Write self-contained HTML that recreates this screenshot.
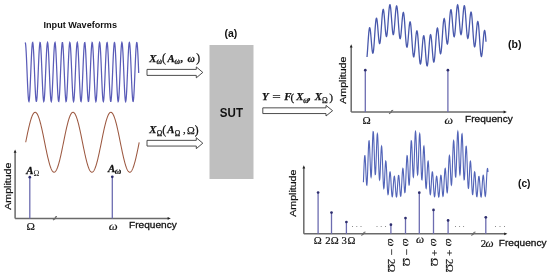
<!DOCTYPE html>
<html><head><meta charset="utf-8"><style>
html,body{margin:0;padding:0;background:#fff;}
body{width:550px;height:276px;overflow:hidden;font-family:"Liberation Sans",sans-serif;}
svg{display:block;will-change:transform;}
</style></head><body>
<svg width="550" height="276" viewBox="0 0 550 276">
<rect width="550" height="276" fill="#fff"/>
<text transform="translate(44.10,28.10)" x="-0.59" y="0" font-family="'Liberation Sans', sans-serif" font-weight="bold" font-style="normal" font-size="9.1" fill="#111">Input Waveforms</text>
<polyline points="25.20,42.50 25.45,43.16 25.70,45.10 25.95,48.25 26.20,52.45 26.45,57.53 26.70,63.25 26.95,69.36 27.20,75.59 27.45,81.66 27.71,87.30 27.96,92.25 28.21,96.31 28.46,99.28 28.71,101.03 28.96,101.48 29.21,100.63 29.46,98.49 29.71,95.18 29.96,90.83 30.21,85.64 30.46,79.84 30.71,73.69 30.96,67.47 31.21,61.45 31.46,55.90 31.71,51.06 31.96,47.17 32.22,44.38 32.47,42.82 32.72,42.56 32.97,43.62 33.22,45.94 33.47,49.43 33.72,53.92 33.97,59.22 34.22,65.09 34.47,71.26 34.72,77.47 34.97,83.44 35.22,88.89 35.47,93.60 35.72,97.34 35.97,99.94 36.22,101.31 36.47,101.36 36.73,100.11 36.98,97.60 37.23,93.95 37.48,89.32 37.73,83.92 37.98,77.98 38.23,71.78 38.48,65.59 38.73,59.69 38.98,54.33 39.23,49.76 39.48,46.19 39.73,43.76 39.98,42.60 40.23,42.75 40.48,44.20 40.73,46.89 40.98,50.70 41.24,55.46 41.49,60.96 41.74,66.95 41.99,73.17 42.24,79.33 42.49,85.17 42.74,90.42 42.99,94.85 43.24,98.26 43.49,100.50 43.74,101.46 43.99,101.12 44.24,99.47 44.49,96.60 44.74,92.63 44.99,87.74 45.24,82.15 45.49,76.10 45.75,69.88 46.00,63.75 46.25,57.98 46.50,52.84 46.75,48.56 47.00,45.32 47.25,43.27 47.50,42.50 47.75,43.05 48.00,44.89 48.25,47.94 48.50,52.06 48.75,57.08 49.00,62.75 49.25,68.84 49.50,75.07 49.75,81.17 50.00,86.85 50.26,91.87 50.51,96.01 50.76,99.07 51.01,100.93 51.26,101.50 51.51,100.75 51.76,98.72 52.01,95.49 52.26,91.22 52.51,86.09 52.76,80.34 53.01,74.21 53.26,67.98 53.51,61.93 53.76,56.33 54.01,51.43 54.26,47.45 54.51,44.56 54.77,42.90 55.02,42.53 55.27,43.48 55.52,45.70 55.77,49.10 56.02,53.51 56.27,58.75 56.52,64.58 56.77,70.74 57.02,76.96 57.27,82.96 57.52,88.47 57.77,93.24 58.02,97.07 58.27,99.77 58.52,101.24 58.77,101.41 59.02,100.26 59.28,97.85 59.53,94.29 59.78,89.74 60.03,84.39 60.28,78.49 60.53,72.30 60.78,66.10 61.03,60.16 61.28,54.75 61.53,50.11 61.78,46.45 62.03,43.92 62.28,42.65 62.53,42.68 62.78,44.03 63.03,46.62 63.28,50.34 63.53,55.03 63.78,60.48 64.04,66.44 64.29,72.65 64.54,78.83 64.79,84.70 65.04,90.01 65.29,94.52 65.54,98.02 65.79,100.36 66.04,101.43 66.29,101.19 66.54,99.65 66.79,96.88 67.04,93.00 67.29,88.18 67.54,82.64 67.79,76.62 68.04,70.40 68.29,64.25 68.55,58.44 68.80,53.24 69.05,48.88 69.30,45.55 69.55,43.39 69.80,42.52 70.05,42.96 70.30,44.69 70.55,47.64 70.80,51.68 71.05,56.63 71.30,62.26 71.55,68.32 71.80,74.55 72.05,80.67 72.30,86.40 72.55,91.48 72.80,95.70 73.06,98.86 73.31,100.82 73.56,101.50 73.81,100.86 74.06,98.93 74.31,95.80 74.56,91.61 74.81,86.55 75.06,80.84 75.31,74.73 75.56,68.50 75.81,62.42 76.06,56.78 76.31,51.81 76.56,47.74 76.81,44.76 77.06,42.99 77.31,42.51 77.57,43.35 77.82,45.47 78.07,48.77 78.32,53.11 78.57,58.29 78.82,64.08 79.07,70.22 79.32,76.45 79.57,82.47 79.82,88.03 80.07,92.87 80.32,96.79 80.57,99.59 80.82,101.17 81.07,101.44 81.32,100.41 81.57,98.10 81.82,94.63 82.08,90.15 82.33,84.86 82.58,79.00 82.83,72.82 83.08,66.61 83.33,60.64 83.58,55.18 83.83,50.46 84.08,46.71 84.33,44.08 84.58,42.70 84.83,42.63 85.08,43.87 85.33,46.36 85.58,49.99 85.83,54.61 86.08,60.00 86.33,65.93 86.59,72.13 86.84,78.32 87.09,84.23 87.34,89.60 87.59,94.18 87.84,97.77 88.09,100.21 88.34,101.39 88.59,101.26 88.84,99.83 89.09,97.16 89.34,93.36 89.59,88.61 89.84,83.12 90.09,77.13 90.34,70.92 90.59,64.75 90.84,58.91 91.10,53.65 91.35,49.20 91.60,45.78 91.85,43.53 92.10,42.54 92.35,42.87 92.60,44.50 92.85,47.35 93.10,51.31 93.35,56.19 93.60,61.77 93.85,67.81 94.10,74.04 94.35,80.17 94.60,85.94 94.85,91.09 95.10,95.39 95.35,98.64 95.61,100.71 95.86,101.49 96.11,100.96 96.36,99.14 96.61,96.11 96.86,92.00 97.11,87.00 97.36,81.33 97.61,75.24 97.86,69.01 98.11,62.92 98.36,57.23 98.61,52.19 98.86,48.04 99.11,44.96 99.36,43.09 99.61,42.50 99.86,43.23 100.12,45.25 100.37,48.45 100.62,52.71 100.87,57.83 101.12,63.58 101.37,69.70 101.62,75.93 101.87,81.99 102.12,87.59 102.37,92.50 102.62,96.50 102.87,99.41 103.12,101.09 103.37,101.47 103.62,100.54 103.87,98.34 104.12,94.96 104.37,90.56 104.62,85.33 104.88,79.50 105.13,73.34 105.38,67.12 105.63,61.12 105.88,55.61 106.13,50.82 106.38,46.98 106.63,44.26 106.88,42.77 107.13,42.59 107.38,43.71 107.63,46.11 107.88,49.65 108.13,54.19 108.38,59.53 108.63,65.42 108.88,71.61 109.13,77.81 109.39,83.76 109.64,89.18 109.89,93.83 110.14,97.51 110.39,100.05 110.64,101.34 110.89,101.33 111.14,100.00 111.39,97.42 111.64,93.71 111.89,89.04 112.14,83.60 112.39,77.64 112.64,71.44 112.89,65.25 113.14,59.37 113.39,54.06 113.64,49.54 113.90,46.02 114.15,43.67 114.40,42.57 114.65,42.79 114.90,44.32 115.15,47.07 115.40,50.94 115.65,55.75 115.90,61.28 116.15,67.29 116.40,73.52 116.65,79.67 116.90,85.48 117.15,90.69 117.40,95.07 117.65,98.42 117.90,100.58 118.15,101.48 118.41,101.06 118.66,99.34 118.91,96.40 119.16,92.38 119.41,87.45 119.66,81.82 119.91,75.76 120.16,69.53 120.41,63.41 120.66,57.68 120.91,52.58 121.16,48.35 121.41,45.17 121.66,43.19 121.91,42.50 122.16,43.12 122.41,45.03 122.66,48.14 122.92,52.32 123.17,57.37 123.42,63.08 123.67,69.19 123.92,75.42 124.17,81.49 124.42,87.15 124.67,92.13 124.92,96.21 125.17,99.21 125.42,101.00 125.67,101.49 125.92,100.67 126.17,98.57 126.42,95.28 126.67,90.96 126.92,85.79 127.17,80.00 127.43,73.86 127.68,67.64 127.93,61.61 128.18,56.04 128.43,51.19 128.68,47.26 128.93,44.44 129.18,42.84 129.43,42.55 129.68,43.57 129.93,45.86 130.18,49.31 130.43,53.78 130.68,59.06 130.93,64.92 131.18,71.09 131.43,77.30 131.68,83.28 131.94,88.75 132.19,93.48 132.44,97.25 132.69,99.89 132.94,101.29 133.19,101.38 133.44,100.16 133.69,97.68 133.94,94.06 134.19,89.46 134.44,84.08 134.69,78.15 134.94,71.96 135.19,65.76 135.44,59.85 135.69,54.47 135.94,49.88 136.19,46.27 136.45,43.82 136.70,42.61 136.95,42.72 137.20,44.14 137.45,46.80 137.70,50.58 137.95,55.32 138.20,60.80 138.45,66.78 138.70,73.00" fill="none" stroke="#5a5cb8" stroke-width="1.25"/>
<polyline points="25.70,142.25 25.95,141.00 26.20,139.76 26.45,138.52 26.70,137.29 26.95,136.06 27.20,134.85 27.45,133.65 27.70,132.46 27.95,131.30 28.21,130.15 28.46,129.02 28.71,127.91 28.96,126.83 29.21,125.78 29.46,124.75 29.71,123.75 29.96,122.79 30.21,121.86 30.46,120.97 30.71,120.11 30.96,119.29 31.21,118.51 31.46,117.77 31.71,117.07 31.96,116.42 32.21,115.81 32.46,115.25 32.72,114.73 32.97,114.27 33.22,113.85 33.47,113.48 33.72,113.15 33.97,112.88 34.22,112.67 34.47,112.50 34.72,112.38 34.97,112.31 35.22,112.30 35.47,112.34 35.72,112.43 35.97,112.57 36.22,112.77 36.47,113.01 36.72,113.30 36.97,113.65 37.23,114.04 37.48,114.49 37.73,114.98 37.98,115.52 38.23,116.10 38.48,116.73 38.73,117.41 38.98,118.12 39.23,118.88 39.48,119.68 39.73,120.52 39.98,121.40 40.23,122.31 40.48,123.25 40.73,124.23 40.98,125.25 41.23,126.29 41.48,127.35 41.74,128.45 41.99,129.56 42.24,130.70 42.49,131.86 42.74,133.04 42.99,134.23 43.24,135.44 43.49,136.66 43.74,137.89 43.99,139.12 44.24,140.37 44.49,141.61 44.74,142.86 44.99,144.10 45.24,145.34 45.49,146.58 45.74,147.81 45.99,149.03 46.25,150.23 46.50,151.43 46.75,152.61 47.00,153.77 47.25,154.91 47.50,156.02 47.75,157.12 48.00,158.19 48.25,159.23 48.50,160.24 48.75,161.22 49.00,162.17 49.25,163.08 49.50,163.96 49.75,164.80 50.00,165.60 50.25,166.36 50.50,167.08 50.76,167.75 51.01,168.38 51.26,168.97 51.51,169.51 51.76,170.00 52.01,170.44 52.26,170.84 52.51,171.19 52.76,171.48 53.01,171.73 53.26,171.92 53.51,172.07 53.76,172.16 54.01,172.20 54.26,172.19 54.51,172.12 54.76,172.01 55.01,171.84 55.27,171.62 55.52,171.35 55.77,171.03 56.02,170.66 56.27,170.25 56.52,169.78 56.77,169.27 57.02,168.70 57.27,168.10 57.52,167.45 57.77,166.75 58.02,166.01 58.27,165.23 58.52,164.42 58.77,163.56 59.02,162.66 59.27,161.74 59.52,160.77 59.78,159.78 60.03,158.75 60.28,157.70 60.53,156.62 60.78,155.51 61.03,154.38 61.28,153.23 61.53,152.07 61.78,150.88 62.03,149.68 62.28,148.47 62.53,147.24 62.78,146.01 63.03,144.77 63.28,143.53 63.53,142.28 63.78,141.04 64.03,139.79 64.28,138.55 64.54,137.32 64.79,136.10 65.04,134.88 65.29,133.68 65.54,132.50 65.79,131.33 66.04,130.18 66.29,129.05 66.54,127.94 66.79,126.86 67.04,125.80 67.29,124.78 67.54,123.78 67.79,122.82 68.04,121.88 68.29,120.99 68.54,120.13 68.79,119.31 69.05,118.53 69.30,117.79 69.55,117.09 69.80,116.44 70.05,115.83 70.30,115.26 70.55,114.75 70.80,114.28 71.05,113.86 71.30,113.48 71.55,113.16 71.80,112.89 72.05,112.67 72.30,112.50 72.55,112.38 72.80,112.32 73.05,112.30 73.30,112.34 73.56,112.43 73.81,112.57 74.06,112.76 74.31,113.00 74.56,113.30 74.81,113.64 75.06,114.03 75.31,114.47 75.56,114.96 75.81,115.50 76.06,116.09 76.31,116.71 76.56,117.39 76.81,118.10 77.06,118.86 77.31,119.66 77.56,120.50 77.81,121.37 78.07,122.28 78.32,123.23 78.57,124.21 78.82,125.22 79.07,126.26 79.32,127.32 79.57,128.42 79.82,129.53 80.07,130.67 80.32,131.83 80.57,133.01 80.82,134.20 81.07,135.41 81.32,136.63 81.57,137.86 81.82,139.09 82.07,140.33 82.32,141.58 82.58,142.82 82.83,144.07 83.08,145.31 83.33,146.55 83.58,147.78 83.83,148.99 84.08,150.20 84.33,151.40 84.58,152.58 84.83,153.74 85.08,154.88 85.33,155.99 85.58,157.09 85.83,158.16 86.08,159.20 86.33,160.21 86.58,161.19 86.83,162.14 87.09,163.06 87.34,163.93 87.59,164.77 87.84,165.58 88.09,166.34 88.34,167.06 88.59,167.73 88.84,168.37 89.09,168.95 89.34,169.49 89.59,169.99 89.84,170.43 90.09,170.83 90.34,171.18 90.59,171.48 90.84,171.72 91.09,171.92 91.34,172.06 91.60,172.16 91.85,172.20 92.10,172.19 92.35,172.12 92.60,172.01 92.85,171.85 93.10,171.63 93.35,171.36 93.60,171.04 93.85,170.68 94.10,170.26 94.35,169.79 94.60,169.28 94.85,168.72 95.10,168.11 95.35,167.46 95.60,166.77 95.85,166.03 96.11,165.25 96.36,164.44 96.61,163.58 96.86,162.69 97.11,161.76 97.36,160.80 97.61,159.80 97.86,158.78 98.11,157.73 98.36,156.65 98.61,155.54 98.86,154.41 99.11,153.27 99.36,152.10 99.61,150.91 99.86,149.71 100.11,148.50 100.36,147.28 100.62,146.04 100.87,144.81 101.12,143.56 101.37,142.32 101.62,141.07 101.87,139.83 102.12,138.59 102.37,137.35 102.62,136.13 102.87,134.92 103.12,133.71 103.37,132.53 103.62,131.36 103.87,130.21 104.12,129.08 104.37,127.97 104.62,126.89 104.87,125.83 105.12,124.80 105.38,123.81 105.63,122.84 105.88,121.91 106.13,121.01 106.38,120.15 106.63,119.33 106.88,118.55 107.13,117.81 107.38,117.11 107.63,116.45 107.88,115.84 108.13,115.28 108.38,114.76 108.63,114.29 108.88,113.87 109.13,113.49 109.38,113.17 109.63,112.90 109.89,112.68 110.14,112.50 110.39,112.38 110.64,112.32 110.89,112.30 111.14,112.34 111.39,112.42 111.64,112.56 111.89,112.75 112.14,113.00 112.39,113.29 112.64,113.63 112.89,114.02 113.14,114.46 113.39,114.95 113.64,115.49 113.89,116.07 114.14,116.70 114.40,117.37 114.65,118.08 114.90,118.84 115.15,119.64 115.40,120.47 115.65,121.35 115.90,122.26 116.15,123.20 116.40,124.18 116.65,125.19 116.90,126.23 117.15,127.30 117.40,128.39 117.65,129.50 117.90,130.64 118.15,131.80 118.40,132.98 118.65,134.17 118.91,135.38 119.16,136.59 119.41,137.82 119.66,139.06 119.91,140.30 120.16,141.54 120.41,142.79 120.66,144.04 120.91,145.28 121.16,146.51 121.41,147.74 121.66,148.96 121.91,150.17 122.16,151.37 122.41,152.54 122.66,153.70 122.91,154.85 123.16,155.97 123.42,157.06 123.67,158.13 123.92,159.17 124.17,160.19 124.42,161.17 124.67,162.12 124.92,163.03 125.17,163.91 125.42,164.75 125.67,165.56 125.92,166.32 126.17,167.04 126.42,167.72 126.67,168.35 126.92,168.94 127.17,169.48 127.42,169.98 127.67,170.42 127.93,170.82 128.18,171.17 128.43,171.47 128.68,171.72 128.93,171.91 129.18,172.06 129.43,172.15 129.68,172.20 129.93,172.19 130.18,172.13 130.43,172.01 130.68,171.85 130.93,171.63 131.18,171.37 131.43,171.05 131.68,170.69 131.93,170.27 132.18,169.81 132.44,169.29 132.69,168.73 132.94,168.13 133.19,167.48 133.44,166.79 133.69,166.05 133.94,165.28 134.19,164.46 134.44,163.60 134.69,162.71 134.94,161.79 135.19,160.82 135.44,159.83 135.69,158.81 135.94,157.76 136.19,156.68 136.44,155.57 136.69,154.44 136.95,153.30 137.20,152.13 137.45,150.94 137.70,149.75 137.95,148.53 138.20,147.31 138.45,146.08 138.70,144.84 138.95,143.60 139.20,142.35" fill="none" stroke="#9c5840" stroke-width="1.05"/>
<line x1="15.1" y1="218.4" x2="168.8" y2="218.4" stroke="#6a6a6a" stroke-width="1.5"/><path d="M170.8,218.4 L167.60000000000002,217.0 L167.60000000000002,219.8 Z" fill="#222"/><line x1="15.1" y1="218.4" x2="15.1" y2="151.6" stroke="#6a6a6a" stroke-width="1.5"/><path d="M15.1,149.6 L13.7,152.79999999999998 L16.5,152.79999999999998 Z" fill="#222"/>
<path d="M53,220.20000000000002 C54,218.9 55,219.4 55,218.4 S56,216.6 57,216.6" fill="none" stroke="#666" stroke-width="1.1"/>
<line x1="29.8" y1="177.2" x2="29.8" y2="218.4" stroke="#6c6cb0" stroke-width="1.3"/><circle cx="29.8" cy="177.2" r="1.35" fill="#2e2e6e"/>
<line x1="112.3" y1="176.8" x2="112.3" y2="218.4" stroke="#6c6cb0" stroke-width="1.3"/><circle cx="112.3" cy="176.8" r="1.35" fill="#2e2e6e"/>
<text transform="translate(29.30,173.60)" x="-3.09" y="0" font-family="'Liberation Serif', serif" font-weight="bold" font-style="italic" font-size="10.8" fill="#111" stroke="#111" stroke-width="0.3">A</text>
<text transform="translate(36.35,175.60)" x="-2.91" y="0" font-family="'Liberation Serif', serif" font-weight="normal" font-style="normal" font-size="7.8" fill="#111">Ω</text>
<text transform="translate(111.10,171.80)" x="-3.09" y="0" font-family="'Liberation Serif', serif" font-weight="bold" font-style="italic" font-size="10.8" fill="#111" stroke="#111" stroke-width="0.3">A</text>
<text transform="translate(118.00,174.00) scale(1.2,1)" x="-2.64" y="0" font-family="'Liberation Serif', serif" font-weight="bold" font-style="italic" font-size="7.5" fill="#111" stroke="#111" stroke-width="0.2">ω</text>
<text transform="translate(30.65,230.20)" x="-4.21" y="0" font-family="'Liberation Serif', serif" font-weight="normal" font-style="normal" font-size="11.3" fill="#111" stroke="#111" stroke-width="0.2">Ω</text>
<text transform="translate(113.10,229.90) scale(1.2,1)" x="-3.65" y="0" font-family="'Liberation Serif', serif" font-weight="normal" font-style="italic" font-size="10.5" fill="#111" stroke="#111" stroke-width="0.2">ω</text>
<text transform="translate(129.90,227.90) scale(1.0,0.93)" x="-0.81" y="0" font-family="'Liberation Sans', sans-serif" font-weight="normal" font-style="normal" font-size="10.1" fill="#111" stroke="#111" stroke-width="0.3">Frequency</text>
<text transform="translate(10.77,209.70) rotate(-90) scale(1,0.85)" x="-0.05" y="0" font-family="'Liberation Sans', sans-serif" font-weight="normal" font-style="normal" font-size="10.6" fill="#111" stroke="#111" stroke-width="0.25">Amplitude</text>
<path d="M147,69.4 L196.3,69.4 L196.3,66.95 L202.8,72.4 L196.3,77.85000000000001 L196.3,75.4 L147,75.4 Z" fill="#fff" stroke="#3a3a3a" stroke-width="0.9"/>
<path d="M147,140.35 L196.3,140.35 L196.3,137.75 L202.8,143.2 L196.3,148.64999999999998 L196.3,146.04999999999998 L147,146.04999999999998 Z" fill="#fff" stroke="#3a3a3a" stroke-width="0.9"/>
<path d="M262.8,107.85000000000001 L326,107.85000000000001 L326,105.4 L332.6,110.7 L326,116.0 L326,113.55 L262.8,113.55 Z" fill="#fff" stroke="#3a3a3a" stroke-width="0.9"/>
<text transform="translate(152.85,61.70)" x="-3.58" y="0" font-family="'Liberation Serif', serif" font-weight="bold" font-style="italic" font-size="10.8" fill="#111" stroke="#111" stroke-width="0.25">X</text>
<text transform="translate(159.10,63.70)" x="-2.68" y="0" font-family="'Liberation Serif', serif" font-weight="bold" font-style="italic" font-size="7.6" fill="#111" stroke="#111" stroke-width="0.25">ω</text>
<text transform="translate(164.00,62.00)" x="-2.00" y="0" font-family="'Liberation Serif', serif" font-weight="normal" font-style="normal" font-size="11.6" fill="#111" stroke="#111" stroke-width="0.25">(</text>
<text transform="translate(170.50,61.70)" x="-3.09" y="0" font-family="'Liberation Serif', serif" font-weight="bold" font-style="italic" font-size="10.8" fill="#111" stroke="#111" stroke-width="0.25">A</text>
<text transform="translate(177.25,63.70)" x="-2.68" y="0" font-family="'Liberation Serif', serif" font-weight="bold" font-style="italic" font-size="7.6" fill="#111" stroke="#111" stroke-width="0.25">ω</text>
<text transform="translate(181.60,61.70)" x="-0.78" y="0" font-family="'Liberation Serif', serif" font-weight="bold" font-style="italic" font-size="10.8" fill="#111" stroke="#111" stroke-width="0.25">,</text>
<text transform="translate(191.10,61.70)" x="-3.60" y="0" font-family="'Liberation Serif', serif" font-weight="bold" font-style="italic" font-size="10.2" fill="#111" stroke="#111" stroke-width="0.25">ω</text>
<text transform="translate(198.00,62.00)" x="-1.87" y="0" font-family="'Liberation Serif', serif" font-weight="normal" font-style="normal" font-size="11.6" fill="#111" stroke="#111" stroke-width="0.25">)</text>
<text transform="translate(152.85,133.30)" x="-3.58" y="0" font-family="'Liberation Serif', serif" font-weight="bold" font-style="italic" font-size="10.8" fill="#111" stroke="#111" stroke-width="0.25">X</text>
<text transform="translate(159.45,135.60)" x="-2.76" y="0" font-family="'Liberation Serif', serif" font-weight="normal" font-style="normal" font-size="7.4" fill="#111" stroke="#111" stroke-width="0.25">Ω</text>
<text transform="translate(164.20,133.60)" x="-2.00" y="0" font-family="'Liberation Serif', serif" font-weight="normal" font-style="normal" font-size="11.6" fill="#111" stroke="#111" stroke-width="0.25">(</text>
<text transform="translate(170.25,133.30)" x="-3.09" y="0" font-family="'Liberation Serif', serif" font-weight="bold" font-style="italic" font-size="10.8" fill="#111" stroke="#111" stroke-width="0.25">A</text>
<text transform="translate(177.55,135.60)" x="-2.76" y="0" font-family="'Liberation Serif', serif" font-weight="normal" font-style="normal" font-size="7.4" fill="#111" stroke="#111" stroke-width="0.25">Ω</text>
<text transform="translate(184.20,133.30)" x="-1.22" y="0" font-family="'Liberation Serif', serif" font-weight="normal" font-style="normal" font-size="10.8" fill="#111" stroke="#111" stroke-width="0.25">,</text>
<text transform="translate(190.90,133.60)" x="-3.87" y="0" font-family="'Liberation Serif', serif" font-weight="normal" font-style="normal" font-size="10.4" fill="#111" stroke="#111" stroke-width="0.25">Ω</text>
<text transform="translate(196.50,133.60)" x="-1.87" y="0" font-family="'Liberation Serif', serif" font-weight="normal" font-style="normal" font-size="11.6" fill="#111" stroke="#111" stroke-width="0.25">)</text>
<text transform="translate(265.95,100.20)" x="-4.00" y="0" font-family="'Liberation Serif', serif" font-weight="bold" font-style="italic" font-size="10.8" fill="#111" stroke="#111" stroke-width="0.25">Y</text>
<text transform="translate(276.55,100.20) scale(1.4,1)" x="-3.05" y="0" font-family="'Liberation Serif', serif" font-weight="bold" font-style="normal" font-size="10.8" fill="#111" stroke="#111" stroke-width="0.2">=</text>
<text transform="translate(287.85,100.20)" x="-3.51" y="0" font-family="'Liberation Serif', serif" font-weight="bold" font-style="italic" font-size="10.8" fill="#111" stroke="#111" stroke-width="0.25">F</text>
<text transform="translate(292.45,101.00)" x="-1.95" y="0" font-family="'Liberation Serif', serif" font-weight="normal" font-style="normal" font-size="11.3" fill="#111" stroke="#111" stroke-width="0.25">(</text>
<text transform="translate(299.80,100.20)" x="-3.58" y="0" font-family="'Liberation Serif', serif" font-weight="bold" font-style="italic" font-size="10.8" fill="#111" stroke="#111" stroke-width="0.25">X</text>
<text transform="translate(305.75,102.70)" x="-2.61" y="0" font-family="'Liberation Serif', serif" font-weight="bold" font-style="italic" font-size="7.4" fill="#111" stroke="#111" stroke-width="0.25">ω</text>
<text transform="translate(309.00,100.20)" x="-0.78" y="0" font-family="'Liberation Serif', serif" font-weight="bold" font-style="italic" font-size="10.8" fill="#111" stroke="#111" stroke-width="0.25">,</text>
<text transform="translate(318.40,100.20)" x="-3.58" y="0" font-family="'Liberation Serif', serif" font-weight="bold" font-style="italic" font-size="10.8" fill="#111" stroke="#111" stroke-width="0.25">X</text>
<text transform="translate(324.75,102.80)" x="-2.83" y="0" font-family="'Liberation Serif', serif" font-weight="normal" font-style="normal" font-size="7.6" fill="#111" stroke="#111" stroke-width="0.25">Ω</text>
<text transform="translate(331.15,101.00)" x="-1.82" y="0" font-family="'Liberation Serif', serif" font-weight="normal" font-style="normal" font-size="11.3" fill="#111" stroke="#111" stroke-width="0.25">)</text>
<rect x="209.5" y="45" width="44" height="134" fill="#bfbfbf"/>
<text transform="translate(220.20,117.30) scale(0.854,1.0)" x="-0.40" y="0" font-family="'Liberation Sans', sans-serif" font-weight="bold" font-style="normal" font-size="13.5" fill="#111">SUT</text>
<text transform="translate(225.00,36.60)" x="-0.53" y="0" font-family="'Liberation Sans', sans-serif" font-weight="bold" font-style="normal" font-size="10.5" fill="#111">(a)</text>
<polyline points="367.00,56.96 367.20,54.69 367.40,52.11 367.60,49.29 367.80,46.33 368.00,43.32 368.20,40.35 368.40,37.53 368.60,34.93 368.80,32.64 369.00,30.73 369.20,29.26 369.40,28.27 369.60,27.79 369.80,27.81 370.00,28.34 370.20,29.35 370.40,30.79 370.60,32.60 370.80,34.72 371.00,37.05 371.20,39.52 371.40,42.03 371.60,44.47 371.80,46.77 372.00,48.83 372.20,50.56 372.40,51.91 372.60,52.81 372.80,53.23 373.00,53.14 373.20,52.53 373.40,51.42 373.60,49.83 373.80,47.81 374.00,45.41 374.20,42.72 374.40,39.81 374.60,36.77 374.80,33.70 375.00,30.69 375.20,27.84 375.40,25.24 375.60,22.96 375.80,21.07 376.00,19.63 376.20,18.67 376.40,18.23 376.60,18.30 376.80,18.88 377.00,19.93 377.20,21.40 377.40,23.25 377.60,25.39 377.80,27.74 378.00,30.21 378.20,32.71 378.40,35.14 378.60,37.41 378.80,39.42 379.00,41.12 379.20,42.41 379.40,43.26 379.60,43.62 379.80,43.47 380.00,42.81 380.20,41.65 380.40,40.03 380.60,37.98 380.80,35.57 381.00,32.88 381.20,29.99 381.40,26.99 381.60,23.98 381.80,21.04 382.00,18.28 382.20,15.78 382.40,13.61 382.60,11.85 382.80,10.55 383.00,9.75 383.20,9.46 383.40,9.68 383.60,10.42 383.80,11.62 384.00,13.24 384.20,15.22 384.40,17.49 384.60,19.96 384.80,22.55 385.00,25.14 385.20,27.66 385.40,30.00 385.60,32.08 385.80,33.83 386.00,35.18 386.20,36.07 386.40,36.48 386.60,36.37 386.80,35.76 387.00,34.66 387.20,33.09 387.40,31.12 387.60,28.80 387.80,26.21 388.00,23.43 388.20,20.57 388.40,17.70 388.60,14.93 388.80,12.34 389.00,10.04 389.20,8.08 389.40,6.54 389.60,5.46 389.80,4.89 390.00,4.83 390.20,5.30 390.40,6.26 390.60,7.69 390.80,9.53 391.00,11.73 391.20,14.20 391.40,16.86 391.60,19.62 391.80,22.37 392.00,25.04 392.20,27.52 392.40,29.73 392.60,31.59 392.80,33.05 393.00,34.05 393.20,34.55 393.40,34.55 393.60,34.04 393.80,33.04 394.00,31.59 394.20,29.73 394.40,27.55 394.60,25.10 394.80,22.48 395.00,19.79 395.20,17.11 395.40,14.54 395.60,12.17 395.80,10.09 396.00,8.37 396.20,7.08 396.40,6.25 396.60,5.93 396.80,6.13 397.00,6.85 397.20,8.06 397.40,9.73 397.60,11.81 397.80,14.23 398.00,16.91 398.20,19.76 398.40,22.70 398.60,25.62 398.80,28.43 399.00,31.05 399.20,33.38 399.40,35.35 399.60,36.91 399.80,38.00 400.00,38.59 400.20,38.67 400.40,38.25 400.60,37.34 400.80,35.98 401.00,34.23 401.20,32.15 401.40,29.83 401.60,27.35 401.80,24.80 402.00,22.28 402.20,19.88 402.40,17.69 402.60,15.80 402.80,14.28 403.00,13.19 403.20,12.58 403.40,12.47 403.60,12.88 403.80,13.80 404.00,15.21 404.20,17.07 404.40,19.33 404.60,21.91 404.80,24.73 405.00,27.72 405.20,30.77 405.40,33.79 405.60,36.69 405.80,39.37 406.00,41.75 406.20,43.77 406.40,45.35 406.60,46.46 406.80,47.07 407.00,47.16 407.20,46.74 407.40,45.84 407.60,44.50 407.80,42.77 408.00,40.73 408.20,38.44 408.40,36.01 408.60,33.52 408.80,31.07 409.00,28.76 409.20,26.66 409.40,24.87 409.60,23.46 409.80,22.49 410.00,21.99 410.20,21.99 410.40,22.51 410.60,23.54 410.80,25.05 411.00,27.00 411.20,29.33 411.40,31.97 411.60,34.84 411.80,37.85 412.00,40.92 412.20,43.93 412.40,46.80 412.60,49.44 412.80,51.77 413.00,53.71 413.20,55.21 413.40,56.23 413.60,56.74 413.80,56.74 414.00,56.22 414.20,55.23 414.40,53.79 414.60,51.98 414.80,49.85 415.00,47.50 415.20,45.00 415.40,42.47 415.60,39.98 415.80,37.64 416.00,35.53 416.20,33.73 416.40,32.32 416.60,31.35 416.80,30.85 417.00,30.86 417.20,31.39 417.40,32.41 417.60,33.90 417.80,35.83 418.00,38.12 418.20,40.71 418.40,43.52 418.60,46.45 418.80,49.41 419.00,52.31 419.20,55.05 419.40,57.54 419.60,59.70 419.80,61.47 420.00,62.79 420.20,63.62 420.40,63.93 420.60,63.72 420.80,63.01 421.00,61.82 421.20,60.19 421.40,58.19 421.60,55.90 421.80,53.38 422.00,50.74 422.20,48.06 422.40,45.45 422.60,42.99 422.80,40.78 423.00,38.89 423.20,37.39 423.40,36.33 423.60,35.76 423.80,35.69 424.00,36.13 424.20,37.07 424.40,38.48 424.60,40.30 424.80,42.48 425.00,44.94 425.20,47.61 425.40,50.38 425.60,53.17 425.80,55.88 426.00,58.42 426.20,60.70 426.40,62.63 426.60,64.16 426.80,65.24 427.00,65.82 427.20,65.88 427.40,65.42 427.60,64.45 427.80,63.02 428.00,61.15 428.20,58.93 428.40,56.41 428.60,53.69 428.80,50.86 429.00,48.01 429.20,45.23 429.40,42.63 429.60,40.28 429.80,38.27 430.00,36.65 430.20,35.49 430.40,34.81 430.60,34.64 430.80,34.98 431.00,35.81 431.20,37.11 431.40,38.81 431.60,40.86 431.80,43.19 432.00,45.70 432.20,48.31 432.40,50.92 432.60,53.44 432.80,55.77 433.00,57.83 433.20,59.54 433.40,60.84 433.60,61.68 433.80,62.01 434.00,61.83 434.20,61.13 434.40,59.93 434.60,58.27 434.80,56.19 435.00,53.76 435.20,51.05 435.40,48.16 435.60,45.16 435.80,42.17 436.00,39.27 436.20,36.55 436.40,34.10 436.60,32.00 436.80,30.31 437.00,29.08 437.20,28.34 437.40,28.12 437.60,28.40 437.80,29.18 438.00,30.41 438.20,32.05 438.40,34.02 438.60,36.26 438.80,38.68 439.00,41.18 439.20,43.67 439.40,46.06 439.60,48.25 439.80,50.16 440.00,51.71 440.20,52.85 440.40,53.51 440.60,53.68 440.80,53.33 441.00,52.47 441.20,51.11 441.40,49.30 441.60,47.09 441.80,44.53 442.00,41.72 442.20,38.74 442.40,35.67 442.60,32.62 442.80,29.68 443.00,26.94 443.20,24.49 443.40,22.40 443.60,20.72 443.80,19.52 444.00,18.82 444.20,18.63 444.40,18.96 444.60,19.77 444.80,21.04 445.00,22.71 445.20,24.71 445.40,26.97 445.60,29.39 445.80,31.88 446.00,34.36 446.20,36.71 446.40,38.86 446.60,40.73 446.80,42.22 447.00,43.30 447.20,43.90 447.40,44.01 447.60,43.60 447.80,42.68 448.00,41.28 448.20,39.44 448.40,37.20 448.60,34.64 448.80,31.83 449.00,28.87 449.20,25.84 449.40,22.85 449.60,19.99 449.80,17.34 450.00,14.99 450.20,13.02 450.40,11.48 450.60,10.42 450.80,9.86 451.00,9.83 451.20,10.30 451.40,11.27 451.60,12.68 451.80,14.49 452.00,16.62 452.20,18.99 452.40,21.52 452.60,24.12 452.80,26.68 453.00,29.11 453.20,31.33 453.40,33.25 453.60,34.80 453.80,35.92 454.00,36.56 454.20,36.71 454.40,36.34 454.60,35.47 454.80,34.13 455.00,32.34 455.20,30.18 455.40,27.71 455.60,25.01 455.80,22.17 456.00,19.28 456.20,16.44 456.40,13.74 456.60,11.28 456.80,9.13 457.00,7.37 457.20,6.05 457.40,5.21 457.60,4.89 457.80,5.08 458.00,5.79 458.20,6.98 458.40,8.62 458.60,10.64 458.80,12.98 459.00,15.55 459.20,18.26 459.40,21.02 459.60,23.73 459.80,26.31 460.00,28.66 460.20,30.69 460.40,32.35 460.60,33.58 460.80,34.32 461.00,34.57 461.20,34.30 461.40,33.53 461.60,32.29 461.80,30.63 462.00,28.59 462.20,26.26 462.40,23.71 462.60,21.03 462.80,18.32 463.00,15.68 463.20,13.19 463.40,10.95 463.60,9.03 463.80,7.51 464.00,6.44 464.20,5.86 464.40,5.79 464.60,6.24 464.80,7.20 465.00,8.64 465.20,10.52 465.40,12.77 465.60,15.32 465.80,18.09 466.00,20.99 466.20,23.92 466.40,26.80 466.60,29.52 466.80,31.99 467.00,34.15 467.20,35.91 467.40,37.23 467.60,38.07 467.80,38.40 468.00,38.22 468.20,37.55 468.40,36.40 468.60,34.84 468.80,32.91 469.00,30.69 469.20,28.27 469.40,25.74 469.60,23.18 469.80,20.71 470.00,18.40 470.20,16.35 470.40,14.63 470.60,13.31 470.80,12.45 471.00,12.09 471.20,12.23 471.40,12.89 471.60,14.06 471.80,15.70 472.00,17.76 472.20,20.18 472.40,22.89 472.60,25.81 472.80,28.84 473.00,31.88 473.20,34.85 473.40,37.65 473.60,40.19 473.80,42.39 474.00,44.19 474.20,45.54 474.40,46.40 474.60,46.75 474.80,46.58 475.00,45.92 475.20,44.79 475.40,43.25 475.60,41.35 475.80,39.18 476.00,36.80 476.20,34.33 476.40,31.85 476.60,29.45 476.80,27.24 477.00,25.29 477.20,23.68 477.40,22.48 477.60,21.74 477.80,21.49 478.00,21.76 478.20,22.53 478.40,23.81 478.60,25.54 478.80,27.69 479.00,30.19 479.20,32.96 479.40,35.91 479.60,38.96 479.80,42.01 480.00,44.97 480.20,47.74 480.40,50.23 480.60,52.38 480.80,54.11 481.00,55.38 481.20,56.15 481.40,56.41 481.60,56.15 481.80,55.39 482.00,54.17 482.20,52.54 482.40,50.57 482.60,48.32 482.80,45.89 483.00,43.37 483.20,40.85 483.40,38.43 483.60,36.20 483.80,34.24 484.00,32.63 484.20,31.44 484.40,30.70 484.60,30.46 484.80,30.74 485.00,31.52 485.20,32.79 485.40,34.51 485.60,36.63 485.80,39.09 486.00,41.81" fill="none" stroke="#4858ac" stroke-width="1.3"/>
<line x1="351.2" y1="112" x2="504.8" y2="112" stroke="#6a6a6a" stroke-width="1.5"/><path d="M506.8,112 L503.6,110.6 L503.6,113.4 Z" fill="#222"/><line x1="351.2" y1="112" x2="351.2" y2="46.3" stroke="#6a6a6a" stroke-width="1.5"/><path d="M351.2,44.3 L349.8,47.5 L352.59999999999997,47.5 Z" fill="#222"/>
<path d="M389.2,113.8 C390.2,112.5 391.2,113 391.2,112 S392.2,110.2 393.2,110.2" fill="none" stroke="#666" stroke-width="1.1"/>
<line x1="365.3" y1="70.2" x2="365.3" y2="112" stroke="#6c6cb0" stroke-width="1.3"/><circle cx="365.3" cy="70.2" r="1.35" fill="#2e2e6e"/>
<line x1="447.9" y1="70.2" x2="447.9" y2="112" stroke="#6c6cb0" stroke-width="1.3"/><circle cx="447.9" cy="70.2" r="1.35" fill="#2e2e6e"/>
<text transform="translate(366.50,123.80)" x="-4.10" y="0" font-family="'Liberation Serif', serif" font-weight="normal" font-style="normal" font-size="11" fill="#111" stroke="#111" stroke-width="0.2">Ω</text>
<text transform="translate(448.75,123.50) scale(1.25,1)" x="-3.34" y="0" font-family="'Liberation Serif', serif" font-weight="normal" font-style="italic" font-size="9.6" fill="#111" stroke="#111" stroke-width="0.2">ω</text>
<text transform="translate(465.90,121.60) scale(1.0,0.93)" x="-0.81" y="0" font-family="'Liberation Sans', sans-serif" font-weight="normal" font-style="normal" font-size="10.1" fill="#111" stroke="#111" stroke-width="0.3">Frequency</text>
<text transform="translate(346.47,103.70) rotate(-90) scale(1,0.85)" x="-0.05" y="0" font-family="'Liberation Sans', sans-serif" font-weight="normal" font-style="normal" font-size="10.6" fill="#111" stroke="#111" stroke-width="0.25">Amplitude</text>
<text transform="translate(508.50,48.00)" x="-0.53" y="0" font-family="'Liberation Sans', sans-serif" font-weight="bold" font-style="normal" font-size="10.6" fill="#111">(b)</text>
<polyline points="363.40,182.28 363.55,178.65 363.70,174.80 363.85,170.91 364.00,167.15 364.15,163.70 364.30,160.71 364.45,158.33 364.60,156.66 364.75,155.78 364.90,155.73 365.05,156.49 365.20,158.03 365.35,160.26 365.50,163.06 365.65,166.26 365.80,169.71 365.95,173.20 366.10,176.55 366.25,179.55 366.40,182.04 366.55,183.86 366.70,184.89 366.85,185.05 367.00,184.29 367.15,182.63 367.30,180.10 367.45,176.82 367.60,172.91 367.75,168.53 367.90,163.89 368.05,159.20 368.20,154.66 368.35,150.49 368.50,146.87 368.65,143.99 368.80,141.96 368.95,140.88 369.10,140.80 369.25,141.70 369.40,143.53 369.55,146.20 369.71,149.56 369.86,153.42 370.01,157.58 370.16,161.81 370.31,165.90 370.46,169.61 370.61,172.75 370.76,175.13 370.91,176.61 371.06,177.11 371.21,176.58 371.36,175.02 371.51,172.49 371.66,169.11 371.81,165.02 371.96,160.41 372.11,155.51 372.26,150.54 372.41,145.75 372.56,141.36 372.71,137.59 372.86,134.62 373.01,132.59 373.16,131.61 373.31,131.71 373.46,132.89 373.61,135.08 373.76,138.18 373.91,142.03 374.06,146.43 374.21,151.17 374.36,155.99 374.51,160.67 374.66,164.97 374.81,168.67 374.96,171.60 375.11,173.60 375.26,174.58 375.41,174.50 375.56,173.36 375.71,171.23 375.86,168.22 376.01,164.49 376.16,160.23 376.31,155.67 376.46,151.03 376.61,146.56 376.76,142.49 376.91,139.03 377.06,136.36 377.21,134.62 377.36,133.90 377.51,134.24 377.66,135.63 377.81,138.02 377.96,141.29 378.11,145.28 378.26,149.81 378.41,154.66 378.56,159.60 378.71,164.41 378.86,168.86 379.01,172.74 379.16,175.89 379.31,178.17 379.46,179.50 379.61,179.83 379.76,179.17 379.91,177.58 380.06,175.17 380.21,172.09 380.36,168.51 380.51,164.63 380.66,160.68 380.81,156.86 380.96,153.39 381.11,150.45 381.26,148.20 381.41,146.78 381.56,146.25 381.71,146.66 381.86,148.00 382.01,150.20 382.17,153.17 382.32,156.78 382.47,160.86 382.62,165.21 382.77,169.65 382.92,173.97 383.07,177.98 383.22,181.50 383.37,184.40 383.52,186.55 383.67,187.88 383.82,188.36 383.97,188.00 384.12,186.84 384.27,184.98 384.42,182.53 384.57,179.65 384.72,176.51 384.87,173.29 385.02,170.15 385.17,167.28 385.32,164.84 385.47,162.95 385.62,161.71 385.77,161.20 385.92,161.44 386.07,162.43 386.22,164.12 386.37,166.44 386.52,169.27 386.67,172.48 386.82,175.93 386.97,179.46 387.12,182.90 387.27,186.10 387.42,188.93 387.57,191.26 387.72,193.01 387.87,194.11 388.02,194.52 388.17,194.27 388.32,193.37 388.47,191.91 388.62,189.96 388.77,187.66 388.92,185.12 389.07,182.49 389.22,179.91 389.37,177.51 389.52,175.42 389.67,173.75 389.82,172.57 389.97,171.96 390.12,171.93 390.27,172.49 390.42,173.61 390.57,175.24 390.72,177.29 390.87,179.66 391.02,182.25 391.17,184.93 391.32,187.57 391.47,190.05 391.62,192.26 391.77,194.10 391.92,195.49 392.07,196.37 392.22,196.72 392.37,196.52 392.52,195.80 392.67,194.59 392.82,192.98 392.97,191.04 393.12,188.88 393.27,186.61 393.42,184.33 393.57,182.17 393.72,180.23 393.87,178.61 394.02,177.39 394.17,176.61 394.32,176.33 394.47,176.56 394.63,177.27 394.78,178.45 394.93,180.02 395.08,181.91 395.23,184.04 395.38,186.29 395.53,188.56 395.68,190.74 395.83,192.72 395.98,194.40 396.13,195.71 396.28,196.58 396.43,196.95 396.58,196.83 396.73,196.19 396.88,195.09 397.03,193.56 397.18,191.67 397.33,189.52 397.48,187.21 397.63,184.84 397.78,182.53 397.93,180.39 398.08,178.53 398.23,177.03 398.38,175.97 398.53,175.40 398.68,175.35 398.83,175.83 398.98,176.80 399.13,178.24 399.28,180.06 399.43,182.17 399.58,184.48 399.73,186.86 399.88,189.20 400.03,191.36 400.18,193.24 400.33,194.73 400.48,195.74 400.63,196.22 400.78,196.12 400.93,195.43 401.08,194.16 401.23,192.38 401.38,190.14 401.53,187.54 401.68,184.70 401.83,181.74 401.98,178.80 402.13,176.02 402.28,173.52 402.43,171.43 402.58,169.85 402.73,168.86 402.88,168.49 403.03,168.77 403.18,169.69 403.33,171.19 403.48,173.21 403.63,175.62 403.78,178.32 403.93,181.15 404.08,183.96 404.23,186.59 404.38,188.90 404.53,190.74 404.68,192.01 404.83,192.61 404.98,192.49 405.13,191.62 405.28,190.02 405.43,187.73 405.58,184.85 405.73,181.49 405.88,177.79 406.03,173.91 406.18,170.04 406.33,166.34 406.48,162.98 406.63,160.12 406.78,157.89 406.93,156.39 407.09,155.70 407.24,155.83 407.39,156.78 407.54,158.48 407.69,160.85 407.84,163.75 407.99,167.03 408.14,170.50 408.29,173.98 408.44,177.26 408.59,180.17 408.74,182.52 408.89,184.17 409.04,185.01 409.19,184.96 409.34,183.99 409.49,182.13 409.64,179.42 409.79,175.98 409.94,171.95 410.09,167.50 410.24,162.83 410.39,158.15 410.54,153.68 410.69,149.61 410.84,146.15 410.99,143.45 411.14,141.63 411.29,140.77 411.44,140.91 411.59,142.04 411.74,144.07 411.89,146.91 412.04,150.39 412.19,154.34 412.34,158.54 412.49,162.76 412.64,166.78 412.79,170.38 412.94,173.36 413.09,175.55 413.24,176.82 413.39,177.08 413.54,176.31 413.69,174.53 413.84,171.79 413.99,168.24 414.14,164.01 414.29,159.32 414.44,154.38 414.59,149.43 414.74,144.71 414.89,140.45 415.04,136.84 415.19,134.07 415.34,132.28 415.49,131.53 415.64,131.88 415.79,133.30 415.94,135.71 416.09,138.99 416.24,142.99 416.39,147.48 416.54,152.26 416.69,157.07 416.84,161.69 416.99,165.87 417.14,169.41 417.29,172.14 417.44,173.91 417.59,174.65 417.74,174.33 417.89,172.96 418.04,170.62 418.19,167.43 418.34,163.57 418.49,159.22 418.64,154.62 418.79,150.00 418.94,145.60 419.09,141.65 419.24,138.35 419.39,135.88 419.55,134.36 419.70,133.88 419.85,134.46 420.00,136.09 420.15,138.69 420.30,142.13 420.45,146.27 420.60,150.89 420.75,155.78 420.90,160.71 421.05,165.46 421.20,169.79 421.35,173.53 421.50,176.49 421.65,178.56 421.80,179.66 421.95,179.76 422.10,178.88 422.25,177.10 422.40,174.53 422.55,171.31 422.70,167.65 422.85,163.73 423.00,159.79 423.15,156.04 423.30,152.67 423.45,149.87 423.60,147.81 423.75,146.58 423.90,146.26 424.05,146.88 424.20,148.42 424.35,150.81 424.50,153.94 424.65,157.67 424.80,161.82 424.95,166.21 425.10,170.64 425.25,174.91 425.40,178.82 425.55,182.22 425.70,184.95 425.85,186.92 426.00,188.07 426.15,188.35 426.30,187.80 426.45,186.47 426.60,184.47 426.75,181.91 426.90,178.96 427.05,175.78 427.20,172.56 427.35,169.47 427.50,166.69 427.65,164.36 427.80,162.61 427.95,161.53 428.10,161.18 428.25,161.60 428.40,162.75 428.55,164.59 428.70,167.04 428.85,169.97 429.00,173.25 429.15,176.73 429.30,180.25 429.45,183.65 429.60,186.78 429.75,189.51 429.90,191.71 430.05,193.32 430.20,194.26 430.35,194.52 430.50,194.12 430.65,193.09 430.80,191.50 430.95,189.47 431.10,187.10 431.25,184.53 431.40,181.89 431.55,179.34 431.70,177.00 431.85,175.00 432.01,173.43 432.16,172.38 432.31,171.90 432.46,172.01 432.61,172.70 432.76,173.94 432.91,175.67 433.06,177.80 433.21,180.24 433.36,182.85 433.51,185.53 433.66,188.15 433.81,190.58 433.96,192.71 434.11,194.46 434.26,195.73 434.41,196.50 434.56,196.72 434.71,196.40 434.86,195.56 435.01,194.26 435.16,192.57 435.31,190.57 435.46,188.37 435.61,186.09 435.76,183.83 435.91,181.71 436.06,179.84 436.21,178.30 436.36,177.17 436.51,176.51 436.66,176.34 436.81,176.68 436.96,177.50 437.11,178.77 437.26,180.42 437.41,182.38 437.56,184.54 437.71,186.81 437.86,189.07 438.01,191.21 438.16,193.13 438.31,194.74 438.46,195.95 438.61,196.70 438.76,196.97 438.91,196.73 439.06,195.98 439.21,194.78 439.36,193.16 439.51,191.20 439.66,189.01 439.81,186.67 439.96,184.31 440.11,182.03 440.26,179.94 440.41,178.15 440.56,176.75 440.71,175.80 440.86,175.34 441.01,175.41 441.16,176.00 441.31,177.09 441.46,178.62 441.61,180.51 441.76,182.68 441.91,185.02 442.06,187.40 442.21,189.70 442.36,191.81 442.51,193.61 442.66,195.00 442.81,195.90 442.96,196.25 443.11,196.01 443.26,195.19 443.41,193.80 443.56,191.91 443.71,189.58 443.86,186.91 444.01,184.03 444.16,181.07 444.31,178.15 444.47,175.42 444.62,173.01 444.77,171.03 444.92,169.57 445.07,168.72 445.22,168.50 445.37,168.93 445.52,169.98 445.67,171.61 445.82,173.72 445.97,176.22 446.12,178.95 446.27,181.79 446.42,184.57 446.57,187.14 446.72,189.36 446.87,191.08 447.02,192.21 447.17,192.65 447.32,192.36 447.47,191.32 447.62,189.56 447.77,187.13 447.92,184.12 448.07,180.67 448.22,176.92 448.37,173.03 448.52,169.18 448.67,165.54 448.82,162.28 448.97,159.55 449.12,157.48 449.27,156.17 449.42,155.66 449.57,155.98 449.72,157.10 449.87,158.96 450.02,161.46 450.17,164.47 450.32,167.80 450.47,171.29 450.62,174.74 450.77,177.96 450.92,180.75 451.07,182.96 451.22,184.43 451.37,185.07 451.52,184.82 451.67,183.65 451.82,181.59 451.97,178.70 452.12,175.12 452.27,170.97 452.42,166.45 452.57,161.76 452.72,157.11 452.87,152.71 453.02,148.77 453.17,145.47 453.32,142.96 453.47,141.35 453.62,140.72 453.77,141.08 453.92,142.42 454.07,144.65 454.22,147.65 454.37,151.25 454.52,155.28 454.67,159.50 454.82,163.70 454.97,167.64 455.12,171.11 455.27,173.93 455.42,175.92 455.57,176.97 455.72,177.00 455.87,176.00 456.02,173.99 456.17,171.06 456.32,167.33 456.47,162.98 456.62,158.22 456.77,153.25 456.93,148.34 457.08,143.70 457.23,139.57 457.38,136.14 457.53,133.58 457.68,132.01 457.83,131.52 457.98,132.11 458.13,133.76 458.28,136.38 458.43,139.84 458.58,143.97 458.73,148.55 458.88,153.35 459.03,158.14 459.18,162.68 459.33,166.73 459.48,170.10 459.63,172.62 459.78,174.17 459.93,174.67 460.08,174.11 460.23,172.51 460.38,169.97 460.53,166.61 460.68,162.62 460.83,158.19 460.98,153.56 461.13,148.97 461.28,144.66 461.43,140.84 461.58,137.72 461.73,135.45 461.88,134.16 462.03,133.92 462.18,134.74 462.33,136.60 462.48,139.40 462.63,143.02 462.78,147.28 462.93,151.98 463.08,156.90 463.23,161.81 463.38,166.48 463.53,170.70 463.68,174.27 463.83,177.04 463.98,178.90 464.13,179.77 464.28,179.65 464.43,178.56 464.58,176.58 464.73,173.85 464.88,170.52 465.03,166.78 465.18,162.84 465.33,158.92 465.48,155.23 465.63,151.98 465.78,149.34 465.93,147.45 466.08,146.42 466.23,146.32 466.38,147.15 466.53,148.89 466.68,151.46 466.83,154.74 466.98,158.58 467.13,162.80 467.28,167.22 467.43,171.63 467.58,175.83 467.73,179.64 467.88,182.90 468.03,185.47 468.18,187.26 468.33,188.20 468.48,188.30 468.63,187.57 468.78,186.08 468.93,183.93 469.08,181.27 469.23,178.25 469.39,175.05 469.54,171.85 469.69,168.81 469.84,166.12 469.99,163.91 470.14,162.30 470.29,161.38 470.44,161.21 470.59,161.80 470.74,163.11 470.89,165.10 471.04,167.66 471.19,170.68 471.34,174.02 471.49,177.53 471.64,181.04 471.79,184.39 471.94,187.44 472.09,190.05 472.24,192.13 472.39,193.59 472.54,194.38 472.69,194.49 472.84,193.94 472.99,192.77 473.14,191.08 473.29,188.96 473.44,186.53 473.59,183.93 473.74,181.31 473.89,178.79 474.04,176.52 474.19,174.61 474.34,173.15 474.49,172.22 474.64,171.87 474.79,172.11 474.94,172.93 475.09,174.29 475.24,176.12 475.39,178.33 475.54,180.82 475.69,183.46 475.84,186.13 475.99,188.72 476.14,191.09 476.29,193.14 476.44,194.79 476.59,195.95 476.74,196.60 476.89,196.70 477.04,196.25 477.19,195.31 477.34,193.91 477.49,192.14 477.64,190.09 477.79,187.86 477.94,185.57 478.09,183.33 478.24,181.26 478.39,179.46 478.54,178.00 478.69,176.98 478.84,176.43 478.99,176.37 479.14,176.82 479.29,177.75 479.44,179.11 479.59,180.84 479.74,182.85 479.89,185.05 480.04,187.32 480.19,189.57 480.34,191.67 480.49,193.52 480.64,195.05 480.79,196.16 480.94,196.81 481.09,196.96 481.24,196.60 481.39,195.75 481.54,194.44 481.69,192.74 481.85,190.72 482.00,188.49 482.15,186.13 482.30,183.78 482.45,181.54 482.60,179.51 482.75,177.80 482.90,176.49 483.05,175.65 483.20,175.31 483.35,175.50 483.50,176.21 483.65,177.40 483.80,179.02 483.95,180.98 484.10,183.20 484.25,185.56 484.40,187.93 484.55,190.20 484.70,192.25 484.85,193.96 485.00,195.25 485.15,196.03 485.30,196.24 485.45,195.88 485.60,194.92 485.75,193.42 485.90,191.41 486.05,189.00 486.20,186.27 486.35,183.36 486.50,180.40 486.65,177.51 486.80,174.84 486.95,172.52 487.10,170.65 487.25,169.33 487.40,168.61 487.55,168.54 487.70,169.11 487.85,170.30 488.00,172.05" fill="none" stroke="#5264b8" stroke-width="1.12"/>
<line x1="303.8" y1="233.8" x2="505.4" y2="233.8" stroke="#6a6a6a" stroke-width="1.5"/><path d="M507.4,233.8 L504.2,232.4 L504.2,235.20000000000002 Z" fill="#222"/><line x1="303.8" y1="233.8" x2="303.8" y2="167.3" stroke="#6a6a6a" stroke-width="1.5"/><path d="M303.8,165.3 L302.40000000000003,168.5 L305.2,168.5 Z" fill="#222"/>
<path d="M361.5,235.60000000000002 C362.5,234.3 363.5,234.8 363.5,233.8 S364.5,232.0 365.5,232.0" fill="none" stroke="#666" stroke-width="1.1"/>
<path d="M471.5,235.60000000000002 C472.5,234.3 473.5,234.8 473.5,233.8 S474.5,232.0 475.5,232.0" fill="none" stroke="#666" stroke-width="1.1"/>
<line x1="318.1" y1="192.5" x2="318.1" y2="233.8" stroke="#6c6cb0" stroke-width="1.3"/><circle cx="318.1" cy="192.5" r="1.35" fill="#2e2e6e"/>
<line x1="331.5" y1="212.6" x2="331.5" y2="233.8" stroke="#6c6cb0" stroke-width="1.3"/><circle cx="331.5" cy="212.6" r="1.35" fill="#2e2e6e"/>
<line x1="346.4" y1="222.0" x2="346.4" y2="233.8" stroke="#6c6cb0" stroke-width="1.3"/><circle cx="346.4" cy="222.0" r="1.35" fill="#2e2e6e"/>
<line x1="390.9" y1="224.7" x2="390.9" y2="233.8" stroke="#6c6cb0" stroke-width="1.3"/><circle cx="390.9" cy="224.7" r="1.35" fill="#2e2e6e"/>
<line x1="405.5" y1="218.1" x2="405.5" y2="233.8" stroke="#6c6cb0" stroke-width="1.3"/><circle cx="405.5" cy="218.1" r="1.35" fill="#2e2e6e"/>
<line x1="419.3" y1="192.7" x2="419.3" y2="233.8" stroke="#6c6cb0" stroke-width="1.3"/><circle cx="419.3" cy="192.7" r="1.35" fill="#2e2e6e"/>
<line x1="433.5" y1="209.9" x2="433.5" y2="233.8" stroke="#6c6cb0" stroke-width="1.3"/><circle cx="433.5" cy="209.9" r="1.35" fill="#2e2e6e"/>
<line x1="448.1" y1="220.4" x2="448.1" y2="233.8" stroke="#6c6cb0" stroke-width="1.3"/><circle cx="448.1" cy="220.4" r="1.35" fill="#2e2e6e"/>
<line x1="485.8" y1="217.3" x2="485.8" y2="233.8" stroke="#6c6cb0" stroke-width="1.3"/><circle cx="485.8" cy="217.3" r="1.35" fill="#2e2e6e"/>
<circle cx="352.5" cy="226.5" r="0.55" fill="#777"/><circle cx="356.8" cy="226.5" r="0.55" fill="#777"/><circle cx="361.0" cy="226.5" r="0.55" fill="#777"/>
<circle cx="377.0" cy="226.5" r="0.55" fill="#777"/><circle cx="381.2" cy="226.5" r="0.55" fill="#777"/><circle cx="385.5" cy="226.5" r="0.55" fill="#777"/>
<circle cx="455.5" cy="226.5" r="0.55" fill="#777"/><circle cx="459.6" cy="226.5" r="0.55" fill="#777"/><circle cx="463.6" cy="226.5" r="0.55" fill="#777"/>
<circle cx="495.5" cy="226.5" r="0.55" fill="#777"/><circle cx="500.0" cy="226.5" r="0.55" fill="#777"/><circle cx="504.5" cy="226.5" r="0.55" fill="#777"/>
<text transform="translate(317.85,244.40)" x="-3.99" y="0" font-family="'Liberation Serif', serif" font-weight="normal" font-style="normal" font-size="10.7" fill="#111" stroke="#111" stroke-width="0.2">Ω</text>
<text transform="translate(327.84,244.40)" x="-2.62" y="0" font-family="'Liberation Serif', serif" font-weight="normal" font-style="normal" font-size="10.7" fill="#111" stroke="#111" stroke-width="0.2">2</text>
<text transform="translate(334.70,244.40)" x="-3.99" y="0" font-family="'Liberation Serif', serif" font-weight="normal" font-style="normal" font-size="10.7" fill="#111" stroke="#111" stroke-width="0.2">Ω</text>
<text transform="translate(344.31,244.40)" x="-2.72" y="0" font-family="'Liberation Serif', serif" font-weight="normal" font-style="normal" font-size="10.7" fill="#111" stroke="#111" stroke-width="0.2">3</text>
<text transform="translate(351.40,244.40)" x="-3.99" y="0" font-family="'Liberation Serif', serif" font-weight="normal" font-style="normal" font-size="10.7" fill="#111" stroke="#111" stroke-width="0.2">Ω</text>
<text transform="translate(420.00,243.30) scale(1.2,1)" x="-3.30" y="0" font-family="'Liberation Serif', serif" font-weight="normal" font-style="italic" font-size="9.5" fill="#111" stroke="#111" stroke-width="0.2">ω</text>
<text transform="translate(388.30,242.35) rotate(90)" x="-3.89" y="0" font-family="'Liberation Serif', serif" font-weight="normal" font-style="italic" font-size="11.2" fill="#111" stroke="#111" stroke-width="0.2">ω</text>
<text transform="translate(388.30,251.90) rotate(90)" x="-3.16" y="0" font-family="'Liberation Serif', serif" font-weight="normal" font-style="normal" font-size="11.2" fill="#111" stroke="#111" stroke-width="0.2">−</text>
<text transform="translate(388.30,261.40) rotate(90)" x="-2.74" y="0" font-family="'Liberation Serif', serif" font-weight="normal" font-style="normal" font-size="11.2" fill="#111" stroke="#111" stroke-width="0.2">2</text>
<text transform="translate(388.30,268.20) rotate(90)" x="-4.17" y="0" font-family="'Liberation Serif', serif" font-weight="normal" font-style="normal" font-size="11.2" fill="#111" stroke="#111" stroke-width="0.2">Ω</text>
<text transform="translate(402.80,242.35) rotate(90)" x="-3.89" y="0" font-family="'Liberation Serif', serif" font-weight="normal" font-style="italic" font-size="11.2" fill="#111" stroke="#111" stroke-width="0.2">ω</text>
<text transform="translate(402.80,251.90) rotate(90)" x="-3.16" y="0" font-family="'Liberation Serif', serif" font-weight="normal" font-style="normal" font-size="11.2" fill="#111" stroke="#111" stroke-width="0.2">−</text>
<text transform="translate(402.80,262.20) rotate(90)" x="-4.17" y="0" font-family="'Liberation Serif', serif" font-weight="normal" font-style="normal" font-size="11.2" fill="#111" stroke="#111" stroke-width="0.2">Ω</text>
<text transform="translate(430.60,242.35) rotate(90)" x="-3.89" y="0" font-family="'Liberation Serif', serif" font-weight="normal" font-style="italic" font-size="11.2" fill="#111" stroke="#111" stroke-width="0.2">ω</text>
<text transform="translate(430.60,253.00) rotate(90)" x="-3.16" y="0" font-family="'Liberation Serif', serif" font-weight="normal" font-style="normal" font-size="11.2" fill="#111" stroke="#111" stroke-width="0.2">+</text>
<text transform="translate(430.60,262.20) rotate(90)" x="-4.17" y="0" font-family="'Liberation Serif', serif" font-weight="normal" font-style="normal" font-size="11.2" fill="#111" stroke="#111" stroke-width="0.2">Ω</text>
<text transform="translate(445.80,242.35) rotate(90)" x="-3.89" y="0" font-family="'Liberation Serif', serif" font-weight="normal" font-style="italic" font-size="11.2" fill="#111" stroke="#111" stroke-width="0.2">ω</text>
<text transform="translate(445.80,253.00) rotate(90)" x="-3.16" y="0" font-family="'Liberation Serif', serif" font-weight="normal" font-style="normal" font-size="11.2" fill="#111" stroke="#111" stroke-width="0.2">+</text>
<text transform="translate(445.80,261.40) rotate(90)" x="-2.74" y="0" font-family="'Liberation Serif', serif" font-weight="normal" font-style="normal" font-size="11.2" fill="#111" stroke="#111" stroke-width="0.2">2</text>
<text transform="translate(445.80,268.20) rotate(90)" x="-4.17" y="0" font-family="'Liberation Serif', serif" font-weight="normal" font-style="normal" font-size="11.2" fill="#111" stroke="#111" stroke-width="0.2">Ω</text>
<text transform="translate(483.44,246.50)" x="-2.62" y="0" font-family="'Liberation Serif', serif" font-weight="normal" font-style="normal" font-size="10.7" fill="#111" stroke="#111" stroke-width="0.2">2</text>
<text transform="translate(489.50,246.50) scale(1.2,1)" x="-3.30" y="0" font-family="'Liberation Serif', serif" font-weight="normal" font-style="italic" font-size="9.5" fill="#111" stroke="#111" stroke-width="0.2">ω</text>
<text transform="translate(499.60,246.10) scale(1.0,0.93)" x="-0.81" y="0" font-family="'Liberation Sans', sans-serif" font-weight="normal" font-style="normal" font-size="10.1" fill="#111" stroke="#111" stroke-width="0.3">Frequency</text>
<text transform="translate(296.47,216.70) rotate(-90) scale(1,0.85)" x="-0.05" y="0" font-family="'Liberation Sans', sans-serif" font-weight="normal" font-style="normal" font-size="10.6" fill="#111" stroke="#111" stroke-width="0.25">Amplitude</text>
<text transform="translate(518.50,186.90)" x="-0.51" y="0" font-family="'Liberation Sans', sans-serif" font-weight="bold" font-style="normal" font-size="10.2" fill="#111">(c)</text>
</svg>
</body></html>
